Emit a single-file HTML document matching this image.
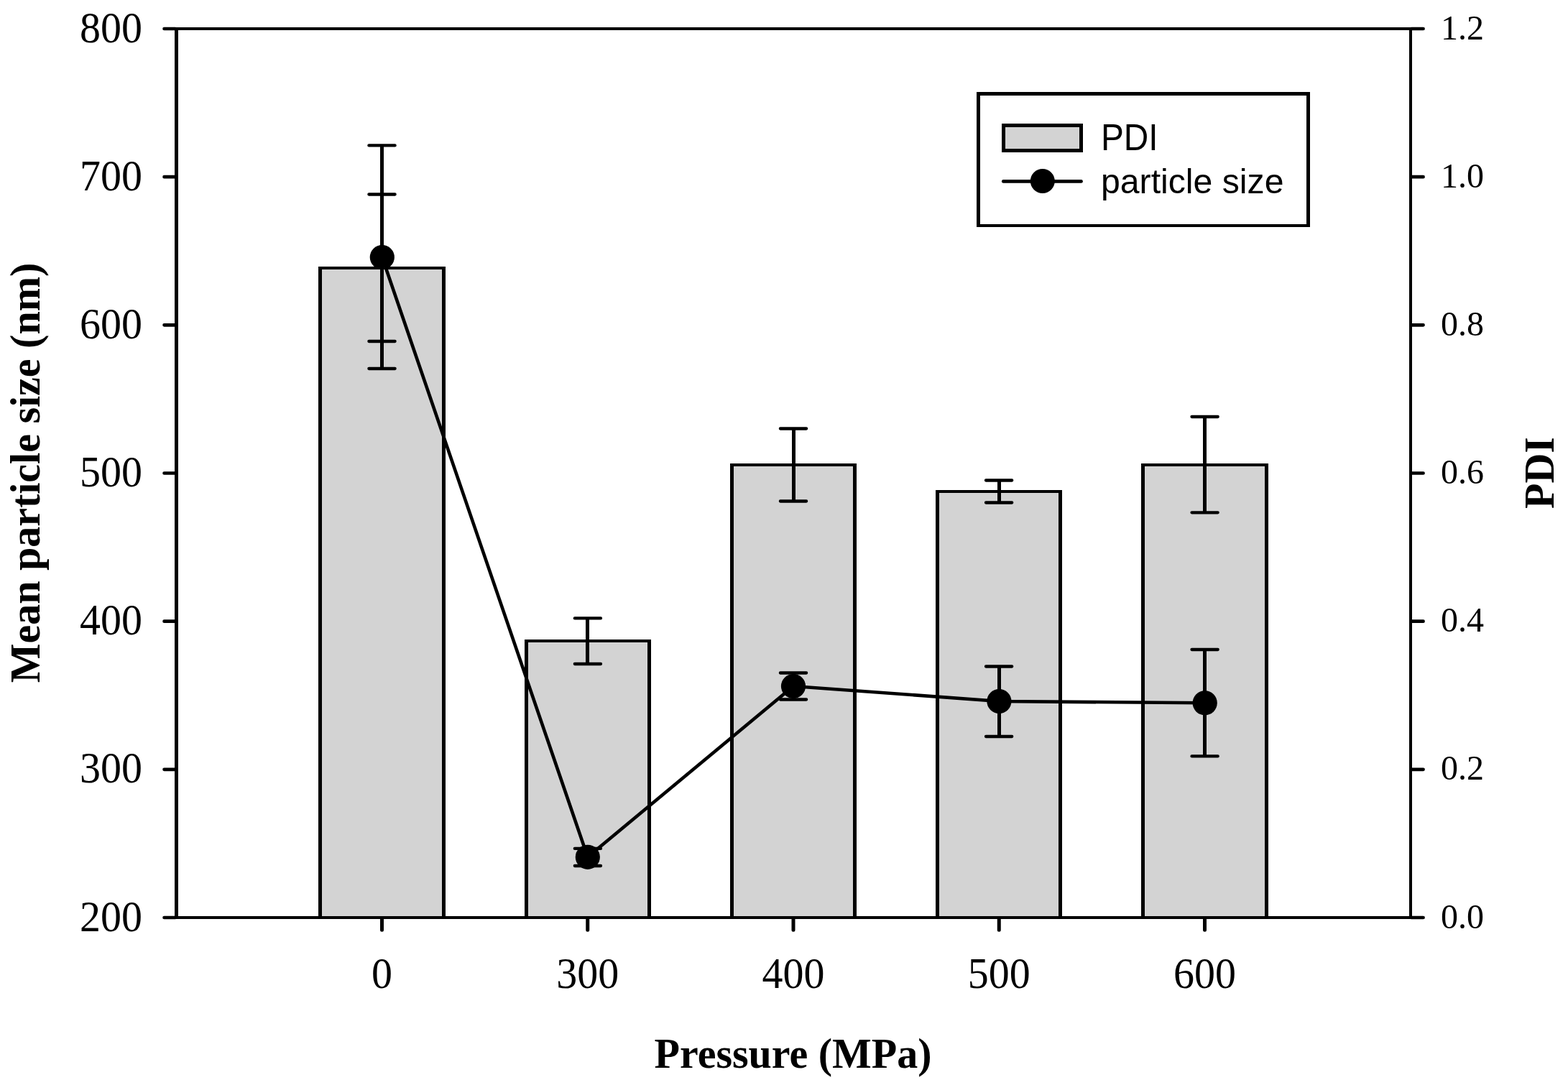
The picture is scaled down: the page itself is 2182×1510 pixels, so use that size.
<!DOCTYPE html><html><head><meta charset="utf-8"><title>Mean particle size and PDI vs Pressure</title><style>html,body{margin:0;padding:0;background:#fff}svg{display:block}text{fill:#000}.s{font-family:"Liberation Serif",serif}.b{font-family:"Liberation Serif",serif;font-weight:bold}.a{font-family:"Liberation Sans",sans-serif}</style></head><body>
<svg width="2182" height="1510" viewBox="0 0 2182 1510">
<rect width="2182" height="1510" fill="#fff"/>
<g shape-rendering="crispEdges">
<rect x="443.35" y="371.00" width="176.40" height="906.00" fill="#d3d3d3"/>
<rect x="443.35" y="371.00" width="5.00" height="906.00" fill="#000"/>
<rect x="614.75" y="371.00" width="5.00" height="906.00" fill="#000"/>
<rect x="443.35" y="371.00" width="176.40" height="4.00" fill="#000"/>
<rect x="729.75" y="890.00" width="176.40" height="387.00" fill="#d3d3d3"/>
<rect x="729.75" y="890.00" width="5.00" height="387.00" fill="#000"/>
<rect x="901.15" y="890.00" width="5.00" height="387.00" fill="#000"/>
<rect x="729.75" y="890.00" width="176.40" height="4.00" fill="#000"/>
<rect x="1015.80" y="645.00" width="176.40" height="632.00" fill="#d3d3d3"/>
<rect x="1015.80" y="645.00" width="5.00" height="632.00" fill="#000"/>
<rect x="1187.20" y="645.00" width="5.00" height="632.00" fill="#000"/>
<rect x="1015.80" y="645.00" width="176.40" height="4.00" fill="#000"/>
<rect x="1301.75" y="682.10" width="176.40" height="594.90" fill="#d3d3d3"/>
<rect x="1301.75" y="682.10" width="5.00" height="594.90" fill="#000"/>
<rect x="1473.15" y="682.10" width="5.00" height="594.90" fill="#000"/>
<rect x="1301.75" y="682.10" width="176.40" height="4.00" fill="#000"/>
<rect x="1588.40" y="645.10" width="176.40" height="631.90" fill="#d3d3d3"/>
<rect x="1588.40" y="645.10" width="5.00" height="631.90" fill="#000"/>
<rect x="1759.80" y="645.10" width="5.00" height="631.90" fill="#000"/>
<rect x="1588.40" y="645.10" width="176.40" height="4.00" fill="#000"/>
</g>
<g shape-rendering="crispEdges">
<rect x="529.00" y="202.40" width="5.00" height="310.60" fill="#000"/>
<rect x="815.40" y="860.40" width="5.00" height="63.60" fill="#000"/>
<rect x="815.40" y="1180.90" width="5.00" height="24.10" fill="#000"/>
<rect x="1101.50" y="596.50" width="5.00" height="101.00" fill="#000"/>
<rect x="1101.50" y="936.50" width="5.00" height="37.00" fill="#000"/>
<rect x="1387.60" y="668.50" width="5.00" height="31.00" fill="#000"/>
<rect x="1387.60" y="927.50" width="5.00" height="97.50" fill="#000"/>
<rect x="1674.10" y="580.00" width="5.00" height="133.30" fill="#000"/>
<rect x="1674.10" y="904.00" width="5.00" height="148.40" fill="#000"/>
</g>
<g stroke="#000" stroke-width="4.3" stroke-linecap="round" fill="none">
<path d="M513.40 202.4H549.60M513.40 270.5H549.60M513.40 475H549.60M513.40 513H549.60M799.80 860.4H836.00M799.80 924H836.00M799.80 1180.9H836.00M799.80 1205H836.00M1085.90 596.5H1122.10M1085.90 697.5H1122.10M1085.90 936.5H1122.10M1085.90 973.5H1122.10M1372.00 668.5H1408.20M1372.00 699.5H1408.20M1372.00 927.5H1408.20M1372.00 1025H1408.20M1658.50 580H1694.70M1658.50 713.3H1694.70M1658.50 904H1694.70M1658.50 1052.4H1694.70"/>
</g>
<polyline points="531.8,358 817.8,1192.8 1104,955 1390.4,976 1676.7,978.3" fill="none" stroke="#000" stroke-width="4.6" stroke-linejoin="round"/>
<circle cx="531.8" cy="358" r="17.1" fill="#000"/>
<circle cx="817.8" cy="1192.8" r="17.1" fill="#000"/>
<circle cx="1104" cy="955" r="17.1" fill="#000"/>
<circle cx="1390.4" cy="976" r="17.1" fill="#000"/>
<circle cx="1676.7" cy="978.3" r="17.1" fill="#000"/>
<g shape-rendering="crispEdges">
<rect x="243.00" y="38.00" width="1722.00" height="4.00" fill="#000"/>
<rect x="243.00" y="1275.00" width="1722.00" height="4.00" fill="#000"/>
<rect x="243.00" y="38.00" width="5.00" height="1241.00" fill="#000"/>
<rect x="1961.00" y="38.00" width="4.00" height="1241.00" fill="#000"/>
</g>
<path d="M228.5 1277.00H244M1964 1277.00H1980.6M228.5 1070.83H244M1964 1070.83H1980.6M228.5 864.67H244M1964 864.67H1980.6M228.5 658.50H244M1964 658.50H1980.6M228.5 452.33H244M1964 452.33H1980.6M228.5 246.17H244M1964 246.17H1980.6M228.5 40.00H244M1964 40.00H1980.6" stroke="#000" stroke-width="4.6" stroke-linecap="round" fill="none"/>
<path d="M531.5 1278V1294.3M817.75 1278V1294.3M1104 1278V1294.3M1390.25 1278V1294.3M1676.5 1278V1294.3" stroke="#000" stroke-width="5" stroke-linecap="round" fill="none"/>
<g class="s" font-size="58" text-anchor="end">
<text transform="translate(198 1295.5) scale(1 1.055)">200</text>
<text transform="translate(198 1089.3) scale(1 1.055)">300</text>
<text transform="translate(198 883.2) scale(1 1.055)">400</text>
<text transform="translate(198 677.0) scale(1 1.055)">500</text>
<text transform="translate(198 470.8) scale(1 1.055)">600</text>
<text transform="translate(198 264.7) scale(1 1.055)">700</text>
<text transform="translate(198 58.5) scale(1 1.055)">800</text>
</g>
<g class="s" font-size="48" text-anchor="start">
<text x="2005" y="1291.6">0.0</text>
<text x="2005" y="1085.4">0.2</text>
<text x="2005" y="879.3">0.4</text>
<text x="2005" y="673.1">0.6</text>
<text x="2005" y="466.9">0.8</text>
<text x="2005" y="260.8">1.0</text>
<text x="2005" y="54.6">1.2</text>
</g>
<g class="s" font-size="58" text-anchor="middle">
<text transform="translate(531.5 1375) scale(1 1.055)">0</text>
<text transform="translate(817.75 1375) scale(1 1.055)">300</text>
<text transform="translate(1104 1375) scale(1 1.055)">400</text>
<text transform="translate(1390.25 1375) scale(1 1.055)">500</text>
<text transform="translate(1676.5 1375) scale(1 1.055)">600</text>
</g>
<text class="b" font-size="58" text-anchor="middle" transform="translate(1103.5 1486.2) scale(1 1.026)">Pressure (MPa)</text>
<text class="b" font-size="58" text-anchor="middle" transform="translate(54.8 658) rotate(-90) scale(1 1.026)">Mean particle size (nm)</text>
<text class="b" font-size="58" text-anchor="middle" transform="translate(2162.2 658) rotate(-90) scale(1 1.026)">PDI</text>
<g shape-rendering="crispEdges">
<rect x="1359.00" y="128.00" width="463.50" height="188.30" fill="#000"/>
<rect x="1364.00" y="132.50" width="453.80" height="179.50" fill="#fff"/>
<rect x="1394.00" y="172.00" width="112.70" height="39.80" fill="#000"/>
<rect x="1399.00" y="176.80" width="103.00" height="30.20" fill="#d3d3d3"/>
</g>
<path d="M1396.3 252.4H1504.5" stroke="#000" stroke-width="4.8" stroke-linecap="round"/>
<circle cx="1450.8" cy="252" r="17" fill="#000"/>
<text class="a" font-size="49" transform="translate(1532 209) scale(0.975 1.06)">PDI</text>
<text class="a" font-size="49" transform="translate(1532 269) scale(0.984 1)">particle size</text>
</svg></body></html>
